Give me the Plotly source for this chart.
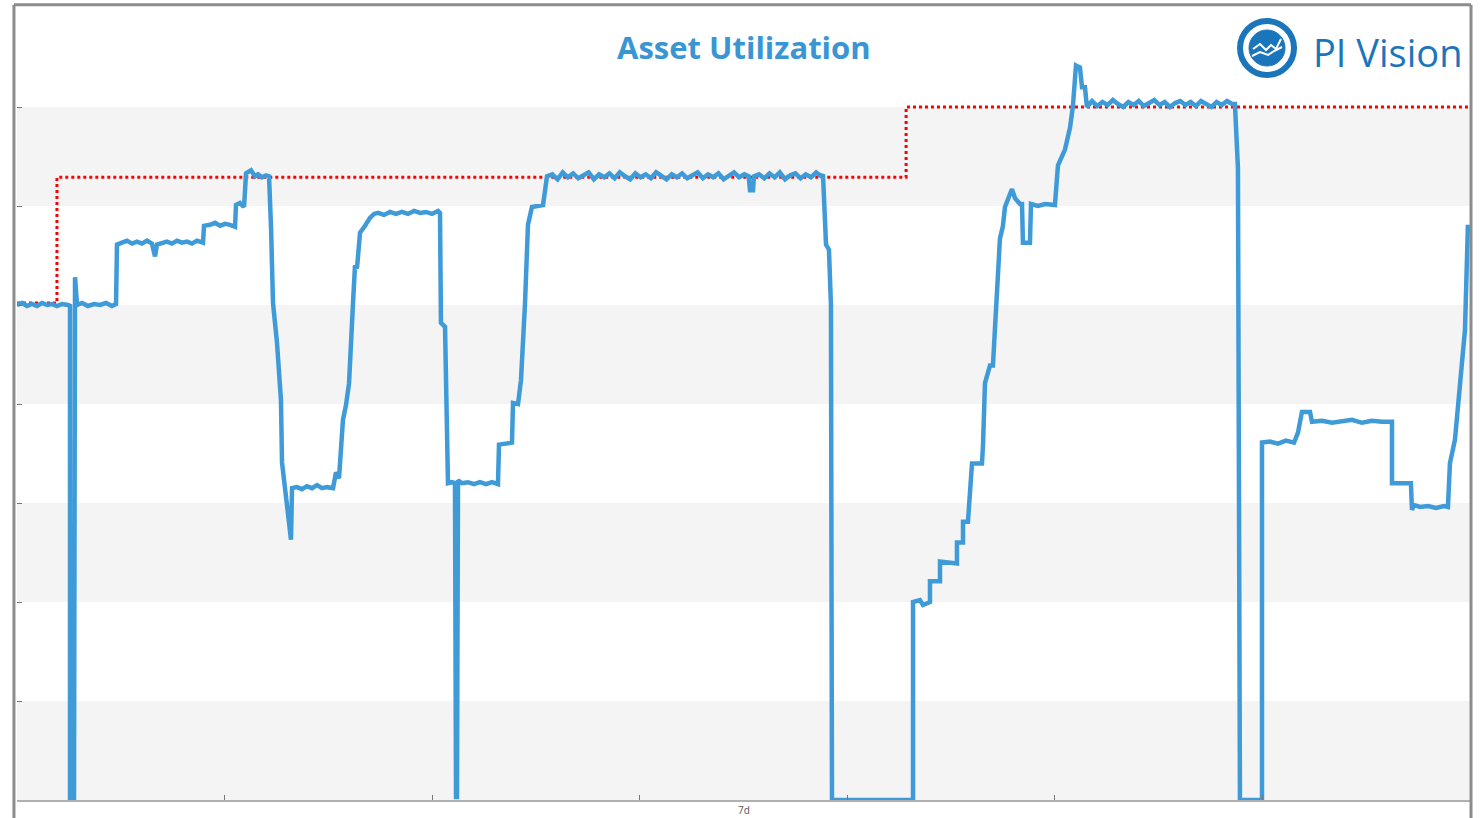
import plotly.graph_objects as go

# time axis in hours over the 7 day window, values in percent-like units
hours = [
    0, 0.58, 1.16, 1.73, 2.31, 2.89, 3.47, 4.05, 4.62, 5.20, 5.90, 6.13, 6.13, 6.59, 6.71, 6.94,
    7.52, 8.21, 8.90, 9.60, 10.29, 10.98, 11.45, 11.56, 12.14, 12.72, 13.30, 13.87, 14.45, 15.03,
    15.61, 15.96, 16.19, 16.76, 17.34, 17.92, 18.50, 19.08, 19.66, 20.23, 20.81, 21.51, 21.62,
    22.31, 22.89, 23.47, 24.05, 24.63, 25.21, 25.32, 25.78, 26.25, 26.48, 27.06, 27.52, 27.86,
    28.33, 28.79, 29.14, 29.37, 29.60, 30.06, 30.52, 30.64, 31.33, 31.68, 31.80, 32.37, 32.95,
    33.53, 34.11, 34.69, 35.26, 35.84, 36.54, 36.88, 37.23, 37.46, 37.69, 38.04, 38.39, 38.85,
    39.08, 39.31, 39.66, 40.24, 40.81, 41.28, 41.74, 42.43, 43.13, 43.82, 44.51, 45.21, 45.90,
    46.60, 47.29, 47.98, 48.68, 48.91, 49.02, 49.49, 49.72, 49.83, 50.29, 50.64, 50.76, 50.87,
    50.99, 51.45, 52.14, 52.84, 53.53, 54.23, 54.92, 55.61, 55.73, 57.23, 57.35, 57.93, 58.27,
    58.73, 59.08, 59.54, 60.82, 61.28,
    61.9, 62.5, 63.1, 63.7, 64.3, 64.9, 65.5, 66.1, 66.7, 67.3, 67.9, 68.5, 69.1, 69.7, 70.3,
    70.9, 71.5, 72.1, 72.7, 73.3, 73.9, 74.5, 75.1, 75.7, 76.3, 76.9, 77.5, 78.1, 78.7, 79.3,
    79.9, 80.5, 81.1, 81.7, 82.3, 82.9, 83.5, 84.1, 84.6,
    84.75, 85.10, 85.21,
    85.8, 86.4, 87.0, 87.6, 88.2, 88.8, 89.4, 90.0, 90.6, 91.2, 91.8, 92.4, 93.0,
    93.19, 93.54, 93.88, 94.11,
    94.23, 103.60, 103.60, 104.40, 104.75, 105.56, 105.56, 106.72, 106.72, 108.68, 108.68,
    109.38, 109.38, 109.95, 110.19, 110.42, 111.57, 111.69, 111.92, 112.50, 112.84, 113.08,
    113.31, 113.65, 114.00, 114.23, 115.04, 115.39, 115.97, 116.20, 116.31, 117.12, 117.24,
    118.05, 118.86, 120.01, 120.36, 121.17, 121.75, 122.09, 122.44, 122.90, 123.14, 123.48,
    123.71,
    124.3, 124.9, 125.5, 126.1, 126.7, 127.3, 127.9, 128.5, 129.1, 129.7, 130.3, 130.9, 131.5,
    132.1, 132.7, 133.3, 133.9, 134.5, 135.1, 135.7, 136.3, 136.9, 137.5, 138.1, 138.7, 139.3,
    139.9, 140.5, 140.82,
    141.17, 141.40, 143.95, 143.95, 144.87, 145.80,
    146.72, 147.65, 148.11, 148.57, 149.50, 149.73, 150.88, 152.04, 153.20, 154.35, 155.51,
    156.67, 157.82, 158.98, 158.98, 161.17, 161.29, 161.52, 162.22, 163.14, 164.07, 164.99,
    165.45, 165.68, 166.26, 166.61, 167.07, 167.42, 167.76,
]
utilization = [
    50.0, 50.2, 49.9, 50.1, 49.9, 50.2, 50.0, 50.1, 49.9, 50.1, 50.0, 49.9, 0, 0, 52.8, 50.0,
    50.2, 49.9, 50.1, 50.0, 50.2, 49.9, 50.1, 56.1, 56.3, 56.5, 56.2, 56.4, 56.2, 56.5,
    56.2, 54.9, 56.1, 56.3, 56.4, 56.2, 56.5, 56.3, 56.4, 56.2, 56.5, 56.3, 58.0,
    58.1, 58.3, 58.0, 58.2, 58.1, 57.9, 60.1, 60.3, 59.9, 63.3, 63.6, 63.0, 63.2,
    62.9, 63.1, 63.0, 57.9, 50.2, 46.2, 40.4, 34.1, 28.3, 26.3, 31.5, 31.6, 31.4,
    31.7, 31.5, 31.8, 31.5, 31.6, 31.5, 33.1, 32.5, 36.4, 38.4, 39.9, 42.1, 50.2,
    54.0, 53.7, 57.3, 58.0, 58.8, 59.2, 59.3, 59.1, 59.4, 59.2, 59.4, 59.2, 59.5,
    59.3, 59.4, 59.2, 59.5, 59.3, 48.2, 47.8, 39.7, 32.0, 32.1, 32.0, 0.3, 0.3,
    32.3, 32.0, 32.1, 31.9, 32.1, 31.9, 32.1, 31.9, 35.9, 36.1, 40.1, 40.0, 42.4,
    50.0, 58.1, 59.9, 60.1, 63.0,
    63.2, 62.7, 63.4, 62.9, 63.3, 62.8, 63.1, 63.4, 62.7, 63.2, 62.9, 63.3, 62.8, 63.4, 63.0,
    62.7, 63.3, 62.9, 63.2, 62.8, 63.4, 63.0, 62.7, 63.2, 62.9, 63.3, 62.8, 63.1, 63.4, 62.8,
    63.2, 62.9, 63.3, 62.7, 63.1, 63.4, 62.9, 63.2, 63.0,
    61.6, 61.6, 63.0,
    63.2, 62.8, 63.3, 62.9, 63.4, 62.7, 63.1, 63.3, 62.8, 63.2, 62.9, 63.4, 63.0,
    63.2, 56.1, 55.6, 50.0,
    0, 0, 20.0, 20.2, 19.7, 20.0, 22.1, 22.1, 24.1, 23.9, 26.0,
    26.0, 28.1, 28.1, 32.0, 34.0, 34.0, 35.8, 42.1, 43.9, 43.9, 47.7,
    51.8, 56.7, 58.0, 59.9, 61.7, 60.8, 60.2, 60.2, 56.3, 56.3, 60.2,
    60.0, 60.2, 60.1, 64.1, 65.7, 67.9, 70.1, 74.2, 74.0, 72.0, 72.0,
    70.0,
    70.6, 70.1, 70.5, 70.2, 70.7, 70.3, 70.0, 70.5, 70.2, 70.6, 70.1, 70.4, 70.7,
    70.2, 70.5, 70.0, 70.4, 70.6, 70.2, 70.5, 70.1, 70.6, 70.3, 70.0, 70.5, 70.2,
    70.6, 70.3, 70.3,
    63.8, 0, 0, 36.1, 36.2, 36.0,
    36.3, 36.1, 37.1, 39.2, 39.2, 38.2, 38.3, 38.1, 38.2, 38.4, 38.1,
    38.3, 38.2, 38.2, 32.0, 32.0, 29.3, 29.8, 29.6, 29.7, 29.5, 29.7,
    29.6, 34.0, 36.4, 39.9, 44.1, 47.5, 58.1,
]

# target (step line)
target_hours = [0, 4.62, 102.8, 168]
target = [50.2, 62.9, 70.0, 70.0]

band_edges = [0, 10, 20, 30, 40, 50, 60, 70, 80]
day_ticks = [24, 48, 72, 96, 120, 144]

fig = go.Figure()

fig.add_trace(go.Scatter(
    x=target_hours, y=target, mode="lines", line_shape="hv",
    line=dict(color="#ff0000", width=3, dash="dot"),
    hoverinfo="skip", showlegend=False,
))
fig.add_trace(go.Scatter(
    x=hours, y=utilization, mode="lines",
    line=dict(color="#3f9bd8", width=4.5),
    name="Utilization", showlegend=False,
))

shapes = []
# alternating grey bands
for i in range(0, len(band_edges) - 1, 2):
    shapes.append(dict(type="rect", xref="paper", yref="y", x0=0, x1=1,
                       y0=band_edges[i], y1=band_edges[i + 1],
                       fillcolor="#f4f4f4", line_width=0, layer="below"))

# outer frame (left, top, right)
frame = "#8c8c8c"
shapes += [
    dict(type="line", xref="paper", yref="paper", x0=-0.0021, x1=-0.0021,
         y0=-0.03, y1=1.004, line=dict(color=frame, width=3)),
    dict(type="line", xref="paper", yref="paper", x0=-0.0021, x1=1.0007,
         y0=1.004, y1=1.004, line=dict(color=frame, width=3)),
    dict(type="line", xref="paper", yref="paper", x0=1.0007, x1=1.0007,
         y0=-0.03, y1=1.004, line=dict(color=frame, width=3)),
]

# PI Vision logo mark
logo_x, logo_y = 0.8603, 0.9495
shapes += [
    dict(type="circle", xref="paper", yref="paper", xsizemode="pixel", ysizemode="pixel",
         xanchor=logo_x, yanchor=logo_y, x0=-27, x1=27, y0=-27, y1=27,
         line=dict(color="#1b75bb", width=6), fillcolor="rgba(0,0,0,0)"),
    dict(type="circle", xref="paper", yref="paper", xsizemode="pixel", ysizemode="pixel",
         xanchor=logo_x, yanchor=logo_y, x0=-18, x1=18, y0=-18, y1=18,
         line=dict(color="#1b75bb", width=1), fillcolor="#1b75bb"),
    dict(type="path", xref="paper", yref="paper", xsizemode="pixel", ysizemode="pixel",
         xanchor=logo_x, yanchor=logo_y,
         path="M -14 -1 L -7 4 L -1 -2 L 4 3 L 9 -1 L 14 9",
         line=dict(color="white", width=2)),
    dict(type="path", xref="paper", yref="paper", xsizemode="pixel", ysizemode="pixel",
         xanchor=logo_x, yanchor=logo_y,
         path="M -15 -8 L -7 -4 L 1 -7 L 7 -3 L 15 1",
         line=dict(color="white", width=2)),
]

fig.update_layout(
    width=1481, height=818,
    margin=dict(l=17, r=11, t=8, b=18),
    paper_bgcolor="white", plot_bgcolor="white",
    shapes=shapes,
    xaxis=dict(range=[0, 168], tickvals=day_ticks, showticklabels=False,
               ticks="inside", ticklen=5, tickcolor="#777", tickwidth=1,
               showgrid=False, zeroline=False,
               showline=True, linecolor="#b0b0b0", linewidth=2),
    yaxis=dict(range=[0, 80], tickvals=band_edges[1:], showticklabels=False,
               ticks="inside", ticklen=5, tickcolor="#777", tickwidth=1,
               showgrid=False, zeroline=False, showline=False),
    annotations=[
        dict(text="<b>Asset Utilization</b>", xref="paper", yref="paper",
             x=0.5, y=0.951, yanchor="middle", showarrow=False,
             font=dict(family="Open Sans", size=31, color="#3a96d3")),
        dict(text="PI Vision", xref="paper", yref="paper", x=0.8906, y=0.9445,
             xanchor="left", yanchor="middle", showarrow=False,
             font=dict(family="Open Sans", size=38, color="#1b75bb")),
        dict(text="7d", xref="paper", yref="paper", x=0.5, y=-0.0025,
             yanchor="top", showarrow=False, borderpad=0,
             font=dict(family="Open Sans", size=10, color="#555")),
    ],
)

# drop the default page margin so the figure sits at the window origin
fig.write_html("out.html", config={"displayModeBar": False},
               post_script="document.body.style.margin='0';")
